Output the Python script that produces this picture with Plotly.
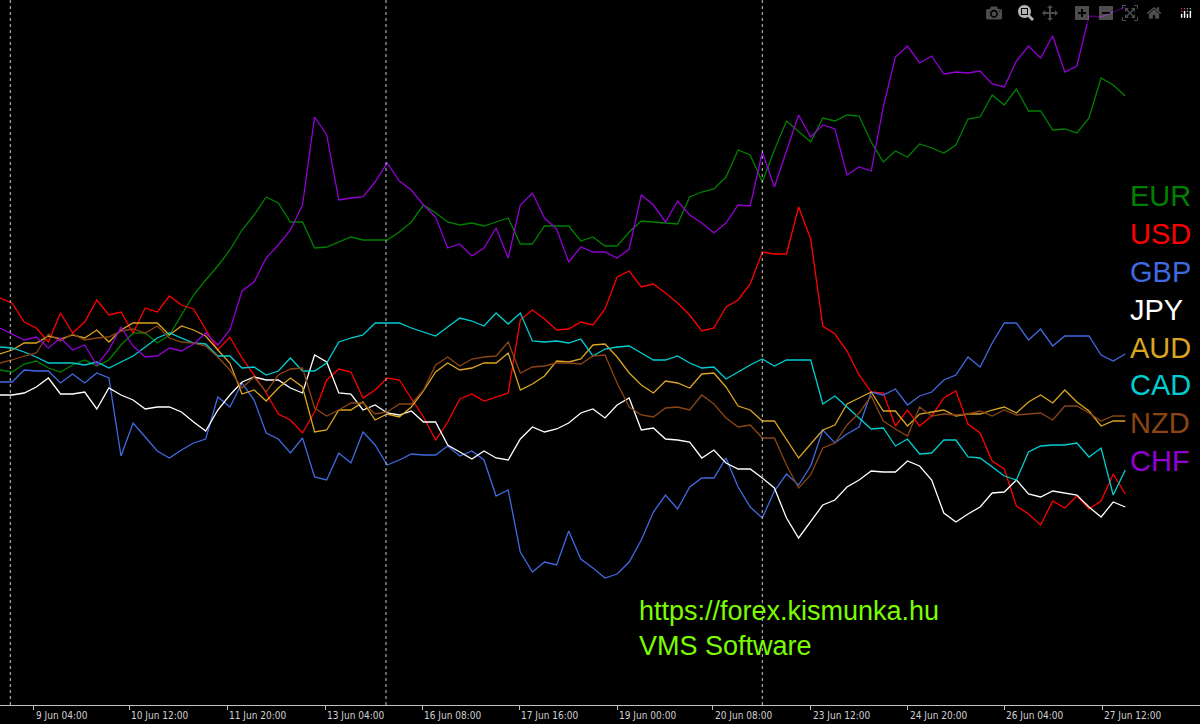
import plotly.graph_objects as go

# currency strength lines, one point per bar (values in chart units, top = strongest)
currencies = ["EUR", "USD", "GBP", "JPY", "AUD", "CAD", "NZD", "CHF"]
colors = ["#008000", "#FF0000", "#4169E1", "#FFFFFF", "#DAA520", "#00CED1", "#8B4513", "#9400D3"]

eur = [370, 372, 364, 361, 368, 372, 365, 360, 366, 360, 345, 333, 333, 343, 335, 315, 295, 280, 266, 250,
       230, 215, 197, 203, 222, 222, 248, 247, 242, 237, 240, 240, 240, 232, 222, 205, 213, 222, 225, 223,
       226, 222, 218, 244, 244, 226, 226, 226, 241, 237, 246, 246, 232, 221, 222, 223, 224, 197, 192, 189,
       177, 150, 155, 182, 150, 121, 132, 142, 118, 121, 115, 116, 142, 162, 151, 157, 144, 148, 153, 145,
       119, 117, 95, 105, 89, 111, 111, 130, 129, 133, 118, 78, 85, 96]
usd = [298, 303, 322, 328, 342, 313, 333, 322, 300, 315, 312, 333, 308, 312, 296, 305, 309, 330, 350, 337,
       358, 375, 393, 414, 420, 433, 412, 380, 369, 372, 398, 390, 378, 380, 398, 417, 440, 422, 399, 394,
       401, 397, 393, 320, 310, 319, 330, 329, 322, 325, 309, 277, 271, 287, 284, 293, 303, 315, 331, 328,
       307, 300, 284, 252, 254, 254, 207, 239, 326, 334, 351, 375, 392, 393, 426, 410, 426, 416, 398, 391,
       424, 433, 461, 469, 506, 514, 525, 501, 508, 496, 509, 501, 474, 494]
gbp = [382, 382, 370, 371, 371, 383, 374, 383, 373, 378, 456, 423, 437, 451, 458, 450, 443, 439, 397, 407,
       383, 400, 433, 439, 453, 438, 477, 480, 453, 463, 432, 445, 465, 460, 454, 455, 455, 446, 456, 451,
       460, 496, 490, 552, 572, 562, 565, 531, 559, 568, 578, 574, 562, 540, 512, 495, 509, 487, 478, 478,
       458, 487, 507, 518, 491, 474, 485, 466, 430, 443, 434, 427, 392, 395, 389, 405, 396, 392, 380, 375,
       357, 367, 343, 323, 323, 340, 329, 346, 336, 336, 336, 355, 361, 354]
jpy = [395, 395, 393, 387, 378, 394, 394, 392, 409, 388, 395, 400, 409, 407, 407, 412, 422, 431, 410, 395,
       382, 377, 380, 380, 388, 393, 355, 362, 393, 394, 410, 405, 413, 415, 411, 422, 422, 445, 452, 459,
       451, 458, 460, 439, 427, 432, 429, 423, 413, 409, 418, 405, 398, 430, 428, 439, 440, 442, 458, 450,
       463, 469, 469, 478, 488, 518, 538, 521, 505, 500, 487, 480, 471, 472, 472, 461, 466, 480, 513, 522,
       514, 507, 493, 492, 480, 494, 497, 491, 493, 495, 507, 517, 502, 507]
aud = [354, 350, 343, 343, 336, 339, 335, 338, 330, 342, 330, 323, 323, 323, 335, 326, 330, 336, 350, 363,
       394, 390, 401, 388, 378, 387, 432, 430, 410, 410, 402, 420, 414, 417, 407, 391, 372, 363, 370, 368,
       363, 363, 353, 390, 384, 376, 361, 362, 359, 345, 344, 357, 373, 385, 393, 381, 383, 388, 374, 373,
       387, 406, 410, 421, 421, 440, 458, 444, 430, 425, 404, 398, 392, 411, 411, 426, 414, 412, 410, 416,
       414, 414, 410, 407, 413, 402, 395, 403, 390, 402, 411, 426, 421, 421]
cad = [347, 348, 352, 357, 363, 363, 363, 365, 362, 368, 362, 356, 347, 338, 333, 338, 343, 344, 356, 356,
       368, 367, 375, 371, 358, 371, 371, 363, 342, 338, 335, 323, 323, 323, 328, 332, 336, 327, 318, 321,
       326, 313, 324, 313, 341, 342, 341, 343, 339, 356, 349, 347, 346, 353, 360, 360, 356, 363, 368, 367,
       379, 372, 365, 359, 366, 360, 360, 360, 404, 396, 407, 418, 429, 428, 446, 439, 454, 453, 440, 440,
       457, 458, 467, 476, 480, 452, 446, 445, 445, 443, 457, 448, 495, 470]
nzd = [363, 360, 356, 353, 334, 341, 334, 340, 338, 337, 331, 329, 333, 326, 338, 342, 343, 346, 357, 370,
       388, 377, 392, 375, 369, 368, 408, 416, 410, 403, 403, 414, 412, 404, 404, 390, 365, 357, 366, 359,
       357, 356, 342, 373, 367, 366, 363, 363, 364, 356, 355, 383, 407, 415, 417, 408, 407, 410, 395, 404,
       418, 427, 425, 438, 438, 465, 488, 475, 448, 443, 425, 413, 396, 421, 429, 436, 407, 416, 414, 415,
       414, 411, 416, 410, 415, 414, 413, 420, 406, 406, 413, 421, 416, 416]
chf = [328, 334, 340, 337, 348, 338, 350, 345, 365, 350, 327, 346, 357, 356, 348, 351, 344, 333, 345, 330,
       291, 282, 258, 245, 230, 205, 117, 135, 200, 198, 197, 182, 163, 181, 190, 205, 217, 248, 244, 256,
       248, 228, 258, 205, 193, 218, 229, 262, 247, 252, 252, 258, 249, 195, 205, 222, 201, 215, 223, 233,
       223, 205, 206, 152, 187, 151, 115, 137, 125, 129, 175, 167, 171, 107, 57, 46, 63, 56, 74, 72,
       73, 71, 84, 87, 61, 46, 58, 36, 72, 66, 16, 17, 12, 7]
series = [eur, usd, gbp, jpy, aud, cad, nzd, chf]

tick_pos = [2.8, 10.7, 18.8, 26.9, 34.9, 42.9, 51.0, 58.9, 67.0, 75.0, 83.0, 91.1]
tick_labels = ["9 Jun 04:00", "10 Jun 12:00", "11 Jun 20:00", "13 Jun 04:00", "16 Jun 08:00", "17 Jun 16:00",
               "19 Jun 00:00", "20 Jun 08:00", "23 Jun 12:00", "24 Jun 20:00", "26 Jun 04:00", "27 Jun 12:00"]
week_breaks = [0.85, 31.9, 63.0]

fig = go.Figure()
for name, col, vals in zip(currencies, colors, series):
    fig.add_trace(go.Scatter(x=list(range(len(vals))), y=vals, mode="lines", name=name,
                             line=dict(color=col, width=1.3), showlegend=False))

for wb in week_breaks:
    fig.add_vline(x=wb, line=dict(color="#c8c8c8", width=1, dash="dot"))

# currency names on the right
for k, (name, col) in enumerate(zip(currencies, colors)):
    fig.add_annotation(x=1128 / 1200, y=1 - (196 + 37.9 * k) / 705, xref="paper", yref="paper",
                       text=name, showarrow=False, xanchor="left", yanchor="middle",
                       font=dict(family="Liberation Sans, Arial", size=29, color=col))

for tp, tl in zip(tick_pos, tick_labels):
    fig.add_annotation(x=tp, y=0, xref="x", yref="paper", text=tl, showarrow=False,
                       xanchor="left", yanchor="top", yshift=-3, xshift=0,
                       font=dict(family="DejaVu Sans Condensed, Liberation Sans Narrow", size=10, color="#d0d0d0"))

fig.add_annotation(x=637 / 1200, y=1 - 628 / 705, xref="paper", yref="paper",
                   text="https://forex.kismunka.hu<br>VMS Software", showarrow=False, align="left",
                   xanchor="left", yanchor="middle",
                   font=dict(family="Liberation Sans, Arial", size=27, color="#7CFC00"))

fig.update_layout(
    width=1200, height=724, margin=dict(l=0, r=0, t=0, b=19),
    paper_bgcolor="black", plot_bgcolor="black",
    xaxis=dict(range=[0, 1200 / 12.1], showgrid=False, zeroline=False, showline=True,
               linecolor="#c0c0c0", linewidth=1, tickvals=tick_pos, ticktext=[""] * len(tick_pos),
               ticks="outside", ticklen=4, tickcolor="#c0c0c0"),
    yaxis=dict(range=[705, 0], showgrid=False, zeroline=False, showticklabels=False, visible=False),
)

# page margin off so the 1200x724 figure fills the window
fig.write_html("out.html", post_script="document.body.style.margin='0';document.body.style.background='black';")
